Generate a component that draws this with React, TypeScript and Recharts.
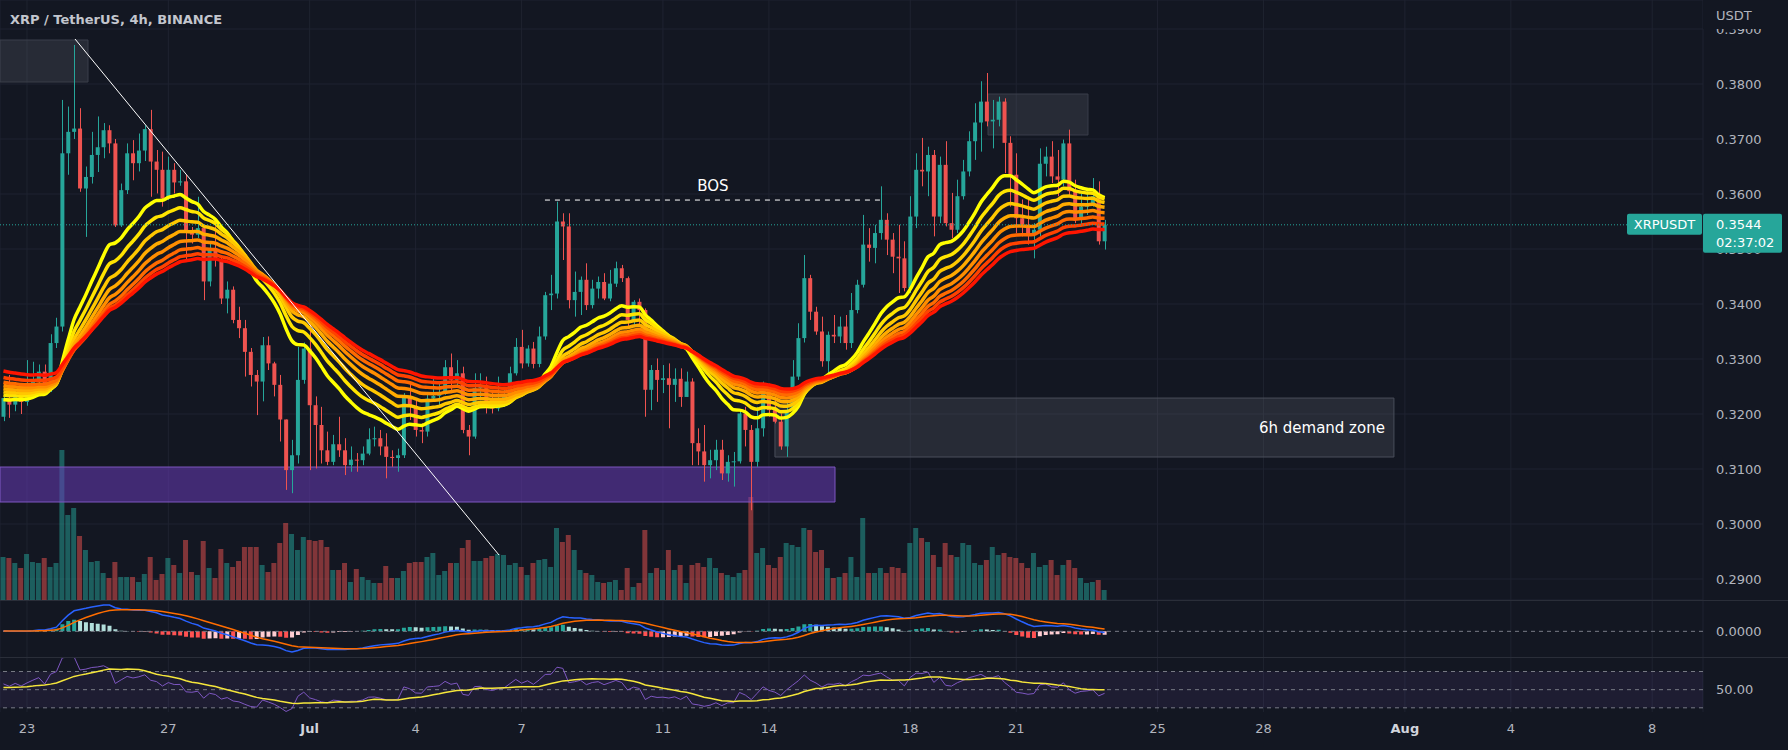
import React from 'react';
import {
  ComposedChart, Bar, Line, XAxis, YAxis, CartesianGrid, ReferenceLine, ReferenceArea, Cell,
} from 'recharts';

// 4h candles, Jun 22 08:00 .. Jul 23 12:00; day 0 = Jun 23 00:00
const firstBarDay = -4 / 6;
const firstOpen = 0.3195;

const closes = [
  0.3229, 0.3217, 0.3235, 0.3222, 0.3241, 0.3259, 0.3277, 0.3247, 0.3329, 0.3359,
  0.3674, 0.3713, 0.3719, 0.3610, 0.3631, 0.3671, 0.3685, 0.3716, 0.3692, 0.3543,
  0.3607, 0.3674, 0.3656, 0.3679, 0.3718, 0.3659, 0.3644, 0.3592, 0.3644, 0.3621,
  0.3623, 0.3532, 0.3526, 0.3538, 0.3441, 0.3498, 0.3480, 0.3410, 0.3426, 0.3371,
  0.3356, 0.3313, 0.3271, 0.3259, 0.3325, 0.3292, 0.3253, 0.3190, 0.3098, 0.3125,
  0.3262, 0.3319, 0.3216, 0.3180, 0.3134, 0.3113, 0.3145, 0.3134, 0.3107, 0.3117,
  0.3116, 0.3128, 0.3154, 0.3156, 0.3141, 0.3122, 0.3120, 0.3125, 0.3231, 0.3213,
  0.3171, 0.3168, 0.3228, 0.3233, 0.3239, 0.3285, 0.3262, 0.3274, 0.3171, 0.3159,
  0.3247, 0.3250, 0.3219, 0.3210, 0.3225, 0.3232, 0.3274, 0.3322, 0.3292, 0.3319,
  0.3291, 0.3341, 0.3416, 0.3419, 0.3550, 0.3541, 0.3407, 0.3422, 0.3444, 0.3398,
  0.3428, 0.3440, 0.3410, 0.3437, 0.3465, 0.3447, 0.3371, 0.3404, 0.3389, 0.3244,
  0.3280, 0.3262, 0.3265, 0.3253, 0.3264, 0.3231, 0.3259, 0.3147, 0.3132, 0.3107,
  0.3116, 0.3135, 0.3092, 0.3113, 0.3114, 0.3201, 0.3171, 0.3113, 0.3174, 0.3250,
  0.3207, 0.3186, 0.3141, 0.3207, 0.3268, 0.3338, 0.3447, 0.3386, 0.3350, 0.3296,
  0.3344, 0.3341, 0.3359, 0.3329, 0.3389, 0.3435, 0.3508, 0.3502, 0.3529, 0.3553,
  0.3517, 0.3486, 0.3483, 0.3429, 0.3559, 0.3644, 0.3641, 0.3671, 0.3559, 0.3653,
  0.3547, 0.3535, 0.3596, 0.3641, 0.3696, 0.3730, 0.3768, 0.3732, 0.3735, 0.3768,
  0.3693, 0.3635, 0.3556, 0.3544, 0.3526, 0.3535, 0.3655, 0.3668, 0.3632, 0.3626,
  0.3692, 0.3605, 0.3553, 0.3577, 0.3583, 0.3596, 0.3514, 0.3544,
];

const highs = [
  0.3235, 0.3271, 0.3245, 0.3250, 0.3298, 0.3295, 0.3290, 0.3290, 0.3345, 0.3375,
  0.3771, 0.3759, 0.3871, 0.3756, 0.3650, 0.3713, 0.3741, 0.3729, 0.3725, 0.3700,
  0.3619, 0.3692, 0.3698, 0.3710, 0.3725, 0.3753, 0.3680, 0.3677, 0.3668, 0.3656,
  0.3644, 0.3635, 0.3540, 0.3595, 0.3545, 0.3510, 0.3541, 0.3486, 0.3441, 0.3432,
  0.3395, 0.3371, 0.3320, 0.3280, 0.3340, 0.3341, 0.3295, 0.3271, 0.3190, 0.3153,
  0.3322, 0.3330, 0.3365, 0.3232, 0.3213, 0.3168, 0.3162, 0.3195, 0.3156, 0.3141,
  0.3129, 0.3141, 0.3174, 0.3177, 0.3171, 0.3165, 0.3134, 0.3137, 0.3238, 0.3256,
  0.3225, 0.3183, 0.3238, 0.3268, 0.3256, 0.3298, 0.3310, 0.3298, 0.3286, 0.3180,
  0.3274, 0.3274, 0.3268, 0.3238, 0.3268, 0.3244, 0.3286, 0.3338, 0.3353, 0.3325,
  0.3331, 0.3359, 0.3422, 0.3453, 0.3586, 0.3565, 0.3565, 0.3459, 0.3450, 0.3474,
  0.3444, 0.3450, 0.3456, 0.3462, 0.3477, 0.3471, 0.3450, 0.3407, 0.3410, 0.3392,
  0.3289, 0.3301, 0.3289, 0.3292, 0.3283, 0.3283, 0.3277, 0.3265, 0.3174, 0.3180,
  0.3135, 0.3153, 0.3153, 0.3125, 0.3131, 0.3207, 0.3213, 0.3180, 0.3213, 0.3259,
  0.3255, 0.3232, 0.3201, 0.3225, 0.3298, 0.3365, 0.3489, 0.3453, 0.3395, 0.3377,
  0.3350, 0.3380, 0.3377, 0.3380, 0.3420, 0.3444, 0.3562, 0.3538, 0.3544, 0.3614,
  0.3565, 0.3529, 0.3544, 0.3514, 0.3596, 0.3674, 0.3702, 0.3686, 0.3680, 0.3668,
  0.3696, 0.3602, 0.3626, 0.3662, 0.3714, 0.3765, 0.3805, 0.3820, 0.3771, 0.3777,
  0.3774, 0.3705, 0.3674, 0.3590, 0.3590, 0.3547, 0.3683, 0.3686, 0.3696, 0.3680,
  0.3699, 0.3717, 0.3626, 0.3605, 0.3608, 0.3629, 0.3623, 0.3553,
];

const lows = [
  0.3187, 0.3193, 0.3205, 0.3200, 0.3215, 0.3232, 0.3250, 0.3235, 0.3240, 0.3320,
  0.3350, 0.3635, 0.3700, 0.3604, 0.3522, 0.3619, 0.3640, 0.3665, 0.3674, 0.3540,
  0.3540, 0.3600, 0.3625, 0.3641, 0.3660, 0.3595, 0.3601, 0.3577, 0.3589, 0.3601,
  0.3615, 0.3480, 0.3510, 0.3520, 0.3407, 0.3432, 0.3468, 0.3400, 0.3383, 0.3365,
  0.3338, 0.3268, 0.3250, 0.3198, 0.3223, 0.3280, 0.3232, 0.3150, 0.3062, 0.3056,
  0.3110, 0.3255, 0.3098, 0.3101, 0.3110, 0.3107, 0.3107, 0.3122, 0.3089, 0.3095,
  0.3095, 0.3107, 0.3125, 0.3141, 0.3125, 0.3083, 0.3104, 0.3095, 0.3120, 0.3189,
  0.3159, 0.3147, 0.3159, 0.3225, 0.3213, 0.3235, 0.3238, 0.3250, 0.3165, 0.3125,
  0.3155, 0.3225, 0.3201, 0.3201, 0.3205, 0.3213, 0.3225, 0.3270, 0.3283, 0.3286,
  0.3283, 0.3285, 0.3335, 0.3389, 0.3410, 0.3480, 0.3392, 0.3377, 0.3380, 0.3389,
  0.3392, 0.3410, 0.3407, 0.3405, 0.3431, 0.3440, 0.3359, 0.3359, 0.3359, 0.3195,
  0.3207, 0.3222, 0.3238, 0.3174, 0.3222, 0.3213, 0.3231, 0.3107, 0.3107, 0.3077,
  0.3083, 0.3098, 0.3080, 0.3077, 0.3068, 0.3110, 0.3141, 0.3025, 0.3104, 0.3159,
  0.3195, 0.3183, 0.3135, 0.3122, 0.3200, 0.3262, 0.3330, 0.3371, 0.3344, 0.3286,
  0.3262, 0.3329, 0.3329, 0.3317, 0.3320, 0.3383, 0.3430, 0.3477, 0.3474, 0.3517,
  0.3489, 0.3456, 0.3420, 0.3423, 0.3420, 0.3538, 0.3614, 0.3596, 0.3523, 0.3547,
  0.3541, 0.3520, 0.3529, 0.3590, 0.3632, 0.3662, 0.3677, 0.3723, 0.3683, 0.3723,
  0.3638, 0.3577, 0.3529, 0.3523, 0.3508, 0.3483, 0.3523, 0.3632, 0.3620, 0.3596,
  0.3614, 0.3596, 0.3547, 0.3544, 0.3562, 0.3577, 0.3508, 0.3499,
];

// volume, millions XRP
const volumes = [
  4.3, 4.2, 3.7, 3.2, 4.6, 3.8, 3.7, 4.2, 3.3, 3.7,
  15.0, 8.5, 9.2, 6.4, 5.0, 3.8, 3.9, 2.7, 2.2, 3.8,
  2.3, 2.3, 2.3, 1.8, 2.6, 4.3, 2.0, 2.6, 4.2, 3.5,
  2.7, 6.0, 2.8, 2.5, 5.9, 3.2, 2.2, 5.1, 3.7, 3.3,
  3.9, 5.3, 5.3, 5.3, 3.5, 2.8, 3.7, 5.7, 7.7, 6.6,
  5.0, 6.3, 6.0, 5.9, 6.0, 5.3, 3.0, 3.0, 3.7, 1.8,
  3.1, 2.3, 2.0, 1.7, 1.7, 3.4, 2.2, 2.2, 2.9, 3.7,
  3.8, 3.8, 4.3, 4.7, 2.5, 2.9, 3.7, 3.7, 5.2, 6.0,
  3.9, 3.9, 4.2, 4.4, 4.6, 4.5, 3.5, 3.7, 3.3, 2.5,
  3.7, 4.0, 4.1, 3.3, 7.2, 5.8, 6.5, 5.0, 3.0, 2.7,
  2.5, 1.8, 1.7, 1.8, 2.0, 1.0, 3.2, 1.3, 1.7, 7.0,
  2.7, 3.2, 3.0, 5.0, 3.0, 3.5, 1.7, 3.5, 3.7, 3.3,
  4.2, 3.2, 2.7, 2.5, 2.3, 2.7, 3.0, 10.3, 4.7, 5.2,
  3.5, 3.2, 4.3, 5.7, 5.5, 5.3, 7.2, 7.0, 4.8, 5.0,
  3.2, 2.2, 2.3, 2.7, 4.3, 2.3, 8.2, 2.7, 2.7, 3.2,
  2.7, 3.3, 3.2, 2.7, 5.7, 7.2, 6.2, 5.8, 4.5, 3.3,
  5.7, 4.5, 4.3, 5.7, 5.5, 3.7, 3.5, 4.0, 5.3, 4.5,
  4.7, 4.3, 4.2, 3.7, 3.2, 4.7, 3.3, 3.5, 4.0, 2.5,
  3.5, 4.0, 3.2, 2.2, 1.7, 1.8, 2.0, 1.0,
];

// EMA ribbon: lengths, and each line's level read at the left edge
const ribbonLengths = [20, 25, 30, 35, 40, 45, 50, 55];
const ribbonStart = [0.3226, 0.3235, 0.3241, 0.3247, 0.3253, 0.3259, 0.3268, 0.3280];
const ribbonColors = ['#ffff00', '#ffe400', '#ffc800', '#ffab00', '#ff8d00', '#ff6a00', '#ff4200', '#ff1500'];

// indicator warm-up levels read at the left edge
const macdStart = { fast: 0.3235, slow: 0.3232, signal: 0.0002 };
const rsiStart = { gain: 0.0009, loss: 0.0009, ma: 52 };

const dayTicks = [0, 4, 8, 11, 14, 18, 21, 25, 28, 32, 35, 39, 42, 46];
const dayLabels = ['23', '27', 'Jul', '4', '7', '11', '14', '18', '21', '25', '28', 'Aug', '4', '8'];
const priceTicks = [0.29, 0.30, 0.31, 0.32, 0.33, 0.34, 0.35, 0.36, 0.37, 0.38, 0.39];

const W = 1788;
const H = 750;
const AXIS_W = 85;
const dayDomain = [-0.7642, 47.438];
const priceDomain = [0.286182, 0.395273];

const BG = '#131722';
const GRID = '#1f2330';
const SEP = '#2a2e39';
const TXT = '#b2b5be';
const UP = '#26a69a';
const DOWN = '#ef5350';
const FONT = '"DejaVu Sans", sans-serif';

const emaOf = (src: number[], len: number, seed: number) => {
  const k = 2 / (len + 1);
  let v = seed;
  return src.map((x) => (v = v + k * (x - v)));
};

const opens = closes.map((c, i) => (i === 0 ? firstOpen : closes[i - 1]));
const ribbons = ribbonLengths.map((len, j) => emaOf(closes, len, ribbonStart[j]));
const emaFast = emaOf(closes, 12, macdStart.fast);
const emaSlow = emaOf(closes, 26, macdStart.slow);
const macd = emaFast.map((v, i) => v - emaSlow[i]);
const signal = emaOf(macd, 9, macdStart.signal);
const hist = macd.map((v, i) => v - signal[i]);

let ag = rsiStart.gain;
let al = rsiStart.loss;
const rsi = closes.map((c, i) => {
  const ch = c - opens[i];
  ag = (ag * 13 + Math.max(ch, 0)) / 14;
  al = (al * 13 + Math.max(-ch, 0)) / 14;
  return 100 - 100 / (1 + ag / al);
});
const rsiMa = rsi.map((_, i) => {
  let s = 0;
  for (let k = i - 13; k <= i; k++) s += k < 0 ? rsiStart.ma : rsi[k];
  return s / 14;
});

const rows = closes.map((c, i) => {
  const row: any = {
    t: firstBarDay + i / 6,
    open: opens[i], close: c, high: highs[i], low: lows[i],
    range: [lows[i], highs[i]],
    vol: volumes[i],
    macd: macd[i], signal: signal[i], hist: hist[i],
    rsi: rsi[i], rsiMa: rsiMa[i],
  };
  ribbons.forEach((r, j) => { row['e' + j] = r[i]; });
  return row;
});

const histColor = (i: number) => {
  const h = hist[i];
  const prev = i > 0 ? hist[i - 1] : h;
  if (h >= 0) return h >= prev ? '#26a69a' : '#b2dfdb';
  return h > prev ? '#ffcdd2' : '#ff5252';
};

const lastClose = closes[closes.length - 1];

const Candle = (props: any) => {
  const { x, y, width, height, payload } = props;
  const { open, close, high, low } = payload;
  const k = high > low ? height / (high - low) : 0;
  const yo = y + (high - open) * k;
  const yc = y + (high - close) * k;
  const color = close >= open ? UP : DOWN;
  const cx = Math.round(x + width / 2) + 0.5;
  return (
    <g>
      <line x1={cx} x2={cx} y1={y} y2={y + height} stroke={color} strokeWidth={1} />
      <rect x={x} y={Math.min(yo, yc)} width={width} height={Math.max(1, Math.abs(yo - yc))} fill={color} />
    </g>
  );
};

const PriceTick = (props: any) => {
  const { y, payload } = props;
  return (
    <text x={W - AXIS_W + 13} y={y} dy={4.5} fill={TXT} fontSize={13} fontFamily={FONT} textAnchor="start">
      {payload.value.toFixed(4)}
    </text>
  );
};

const MacdTick = (props: any) => (
  <text x={W - AXIS_W + 13} y={props.y} dy={4.5} fill={TXT} fontSize={13} fontFamily={FONT}>
    {props.payload.value.toFixed(4)}
  </text>
);

const RsiTick = (props: any) => (
  <text x={W - AXIS_W + 13} y={props.y} dy={4.5} fill={TXT} fontSize={13} fontFamily={FONT}>
    {props.payload.value.toFixed(2)}
  </text>
);

const DayTick = (props: any) => {
  const { x, y, payload } = props;
  const label = dayLabels[dayTicks.indexOf(payload.value)];
  const month = label === 'Jul' || label === 'Aug';
  return (
    <text x={x} y={y} dy={13} fill={month ? '#d1d4dc' : TXT} fontSize={13} fontWeight={month ? 'bold' : 'normal'}
      fontFamily={FONT} textAnchor="middle">
      {label}
    </text>
  );
};

const PriceTag = (props: any) => {
  const { viewBox } = props;
  const right = viewBox.x + viewBox.width;
  const y = viewBox.y;
  return (
    <g fontFamily={FONT}>
      <rect x={right - 76} y={y - 11} width={75} height={21} fill={UP} rx={2} />
      <text x={right - 38.5} y={y + 4.5} fill="#ffffff" fontSize={13} textAnchor="middle">XRPUSDT</text>
      <rect x={right} y={y - 11} width={79} height={39} fill={UP} rx={2} />
      <text x={right + 13} y={y + 4} fill="#ffffff" fontSize={13}>{lastClose.toFixed(4)}</text>
      <text x={right + 13} y={y + 22} fill="#ffffff" fontSize={13}>02:37:02</text>
    </g>
  );
};

export default function App() {
  return (
    <div style={{ position: 'absolute', left: 0, top: 0, width: W, height: H, background: BG, overflow: 'hidden', fontFamily: FONT }}>
      {/* grid, price scale and volume */}
      <div style={{ position: 'absolute', left: 0, top: 0 }}>
        <ComposedChart width={W} height={600} data={rows} margin={{ top: 0, right: 0, left: 0, bottom: 0 }}>
          <CartesianGrid stroke={GRID} />
          <XAxis dataKey="t" type="number" domain={dayDomain} ticks={dayTicks} interval={0} allowDataOverflow hide />
          <YAxis orientation="right" width={AXIS_W} domain={priceDomain} ticks={priceTicks} interval={0}
            allowDataOverflow axisLine={false} tickLine={false} tick={<PriceTick />} />
          <YAxis yAxisId="vol" domain={[0, 60]} hide />
          <Bar yAxisId="vol" dataKey="vol" barSize={5} isAnimationActive={false}>
            {rows.map((r, i) => (
              <Cell key={i} fill={r.close >= r.open ? 'rgba(38,166,154,0.5)' : 'rgba(239,83,80,0.5)'} />
            ))}
          </Bar>
        </ComposedChart>
      </div>

      {/* candles, ribbon and drawings */}
      <div style={{ position: 'absolute', left: 0, top: 0 }}>
        <ComposedChart width={W} height={600} data={rows} margin={{ top: 0, right: AXIS_W, left: 0, bottom: 0 }}>
          <XAxis dataKey="t" type="number" domain={dayDomain} allowDataOverflow hide />
          <YAxis domain={priceDomain} allowDataOverflow hide />
          <ReferenceArea x1={dayDomain[0]} x2={22.87} y1={0.3040} y2={0.31036} ifOverflow="hidden"
            fill="#673ab7" fillOpacity={0.55} stroke="#7e57c2" strokeWidth={1} />
          <ReferenceArea x1={dayDomain[0]} x2={1.727} y1={0.38036} y2={0.3880} ifOverflow="hidden"
            fill="#787b86" fillOpacity={0.2} stroke="#3a3e4a" />
          <ReferenceArea x1={27.2} x2={30.03} y1={0.37073} y2={0.37818} ifOverflow="hidden"
            fill="#787b86" fillOpacity={0.2} stroke="#3a3e4a" />
          <ReferenceArea x1={21.17} x2={38.69} y1={0.31218} y2={0.3229} ifOverflow="hidden"
            fill="#787b86" fillOpacity={0.2} stroke="#4a4e5a"
            label={{ value: '6h demand zone', position: 'insideRight', offset: 9, fill: '#ffffff', fontSize: 15, fontFamily: FONT }} />
          {ribbonColors.map((col, j) => (
            <Line key={j} dataKey={'e' + j} stroke={col} strokeWidth={3.5} dot={false} activeDot={false} type="monotone"
              isAnimationActive={false} />
          ))}
          <Bar dataKey="range" barSize={4} shape={<Candle />} isAnimationActive={false} />
          <ReferenceLine segment={[{ x: 1.359, y: 0.38818 }, { x: 13.36, y: 0.29436 }]} stroke="#ffffff"
            strokeWidth={1} ifOverflow="visible" />
          <ReferenceLine segment={[{ x: 14.66, y: 0.3589 }, { x: 24.17, y: 0.3589 }]} stroke="#ffffff"
            strokeWidth={1} strokeDasharray="5 5" ifOverflow="visible"
            label={{ value: 'BOS', position: 'top', offset: 9, fill: '#ffffff', fontSize: 15, fontFamily: FONT }} />
          <ReferenceLine y={lastClose} stroke={UP} strokeDasharray="1 2" strokeWidth={1} label={<PriceTag />} />
        </ComposedChart>
      </div>

      {/* MACD */}
      <div style={{ position: 'absolute', left: 0, top: 600 }}>
        <ComposedChart width={W} height={57} data={rows} margin={{ top: 0, right: 0, left: 0, bottom: 0 }}>
          <CartesianGrid stroke={GRID} horizontal={false} />
          <XAxis dataKey="t" type="number" domain={dayDomain} ticks={dayTicks} interval={0} allowDataOverflow hide />
          <YAxis orientation="right" width={AXIS_W} domain={['dataMin', 'dataMax']} ticks={[0]} padding={{ top: 5, bottom: 5 }}
            axisLine={false} tickLine={false} tick={<MacdTick />} />
          <ReferenceLine y={0} stroke="#787b86" strokeDasharray="4 4" />
          <Bar dataKey="hist" barSize={4} isAnimationActive={false}>
            {rows.map((_, i) => <Cell key={i} fill={histColor(i)} />)}
          </Bar>
          <Line dataKey="macd" stroke="#2962ff" strokeWidth={1.5} dot={false} activeDot={false} isAnimationActive={false} />
          <Line dataKey="signal" stroke="#ff6d00" strokeWidth={1.5} dot={false} activeDot={false} isAnimationActive={false} />
        </ComposedChart>
      </div>

      {/* RSI and time scale */}
      <div style={{ position: 'absolute', left: 0, top: 657 }}>
        <ComposedChart width={W} height={93} data={rows} margin={{ top: 0, right: 0, left: 0, bottom: 0 }}>
          <CartesianGrid stroke={GRID} horizontal={false} />
          <XAxis dataKey="t" type="number" domain={dayDomain} ticks={dayTicks} interval={0} allowDataOverflow
            height={38} axisLine={false} tickLine={false} tick={<DayTick />} />
          <YAxis orientation="right" width={AXIS_W} domain={[25.4, 86]} ticks={[50]} allowDataOverflow
            axisLine={false} tickLine={false} tick={<RsiTick />} />
          <ReferenceArea y1={30} y2={70} fill="#7e57c2" fillOpacity={0.1} />
          <ReferenceLine y={70} stroke="#787b86" strokeDasharray="4 4" />
          <ReferenceLine y={50} stroke="#787b86" strokeDasharray="4 4" />
          <ReferenceLine y={30} stroke="#787b86" strokeDasharray="4 4" />
          <Line dataKey="rsi" stroke="#7e57c2" strokeWidth={1} dot={false} activeDot={false} isAnimationActive={false} />
          <Line dataKey="rsiMa" stroke="#f5e63b" strokeWidth={1.5} dot={false} activeDot={false} isAnimationActive={false} />
        </ComposedChart>
      </div>

      <div style={{ position: 'absolute', left: 0, top: 600, width: W, height: 1, background: SEP }} />
      <div style={{ position: 'absolute', left: 0, top: 657, width: W, height: 1, background: SEP }} />

      <div style={{ position: 'absolute', left: W - AXIS_W, top: 0, width: AXIS_W, height: 29, background: BG }}>
        <div style={{ position: 'absolute', left: 13, top: 8, fontSize: 13, color: TXT }}>USDT</div>
      </div>

      <div style={{ position: 'absolute', left: 10, top: 12, fontSize: 13, fontWeight: 'bold', color: '#c3c6ce', whiteSpace: 'nowrap' }}>
        XRP / TetherUS, 4h, BINANCE
      </div>
    </div>
  );
}
